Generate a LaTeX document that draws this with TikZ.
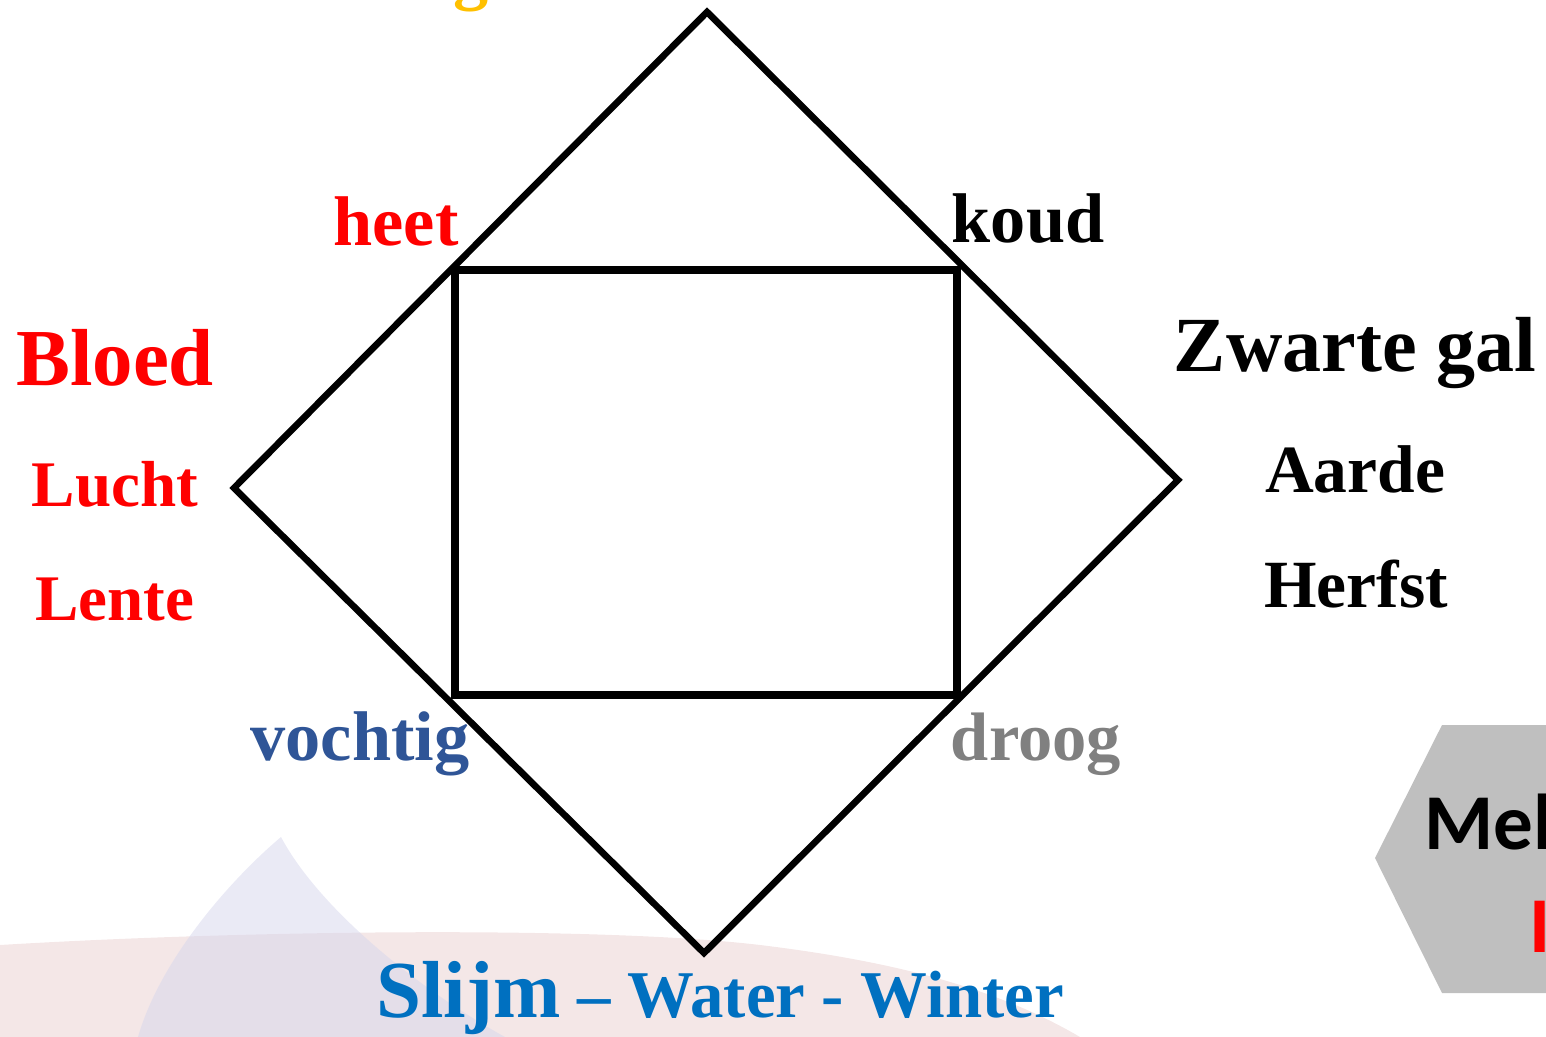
\documentclass[tikz,border=0pt]{standalone}
\usepackage{fontspec}
\setmainfont{Liberation Serif}
\newfontfamily\hexfont{Carlito}
\definecolor{vochtblauw}{HTML}{2F5597}
\definecolor{slijmblauw}{HTML}{0070C0}
\definecolor{galgeel}{HTML}{FFC000}
\definecolor{hexgrijs}{HTML}{BFBFBF}
\definecolor{droggrijs}{HTML}{808080}
\definecolor{roze}{RGB}{244,231,231}
\definecolor{lila}{RGB}{214,214,236}

\begin{document}
\begin{tikzpicture}[x=0.01cm,y=-0.01cm,
    woord/.style={anchor=base,inner sep=0pt,font=\bfseries\fontsize{#1}{#1}\selectfont},
    woord/.default=20]
\useasboundingbox (0,0) rectangle (1546,1037);
\clip (0,0) rectangle (1546,1037);
% achtergrond
\fill[roze] (0,945) .. controls (250,930) and (600,926) .. (760,945) .. controls (900,962) and (1000,990) .. (1080,1037) -- (0,1037) -- cycle;
\fill[lila,opacity=0.5] (281,837) .. controls (320,910) and (420,990) .. (505,1037) -- (138,1037) .. controls (160,960) and (230,880) .. (281,837) -- cycle;
% zeshoek rechtsonder
\fill[hexgrijs] (1375,858) -- (1442,725) -- (1600,725) -- (1600,993) -- (1442,993) -- cycle;
\node[anchor=base west,inner sep=0pt,font=\hexfont\bfseries\fontsize{22.5}{22.5}\selectfont] (mel) at (1424,849) {Mel};
\node[anchor=base west,inner sep=0pt,text=red,font=\hexfont\bfseries\fontsize{22.5}{22.5}\selectfont] (melrood) at (1529,952) {I};
% ruit en vierkant
\coordinate (boven) at (707,12);
\coordinate (rechts) at (1178,480);
\coordinate (onder) at (704,953);
\coordinate (links) at (234,488);
\draw[line width=1.9pt] (boven) -- (rechts) -- (onder) -- (links) -- cycle;
\coordinate (lb) at (455,270);
\coordinate (ro) at (957,695);
\draw[line width=2.2pt] (lb) rectangle (ro);
% teksten
\node[woord=20,text=galgeel] (gal) at (471,-3) {g};
\node[woord=20,text=red] (heet) at (396,246) {heet};
\node[woord=20] (koud) at (1028,243) {koud};
\node[woord=23,text=red] (bloed) at (115,386) {Bloed};
\node[woord=18.5,text=red] (lucht) at (115,507) {Lucht};
\node[woord=18.5,text=red] (lente) at (115,620) {Lente};
\node[woord=22.2] (zwart) at (1355,372) {Zwarte gal};
\node[woord=19.2] (aarde) at (1355,493) {Aarde};
\node[woord=19.2] (herfst) at (1356,607) {Herfst};
\node[woord=20,text=vochtblauw] (vochtig) at (360,760) {vochtig};
\node[woord=19.5,text=droggrijs] (droog) at (1036,760) {droog};
\node[woord=19,text=slijmblauw] (slijm) at (720,1017) {{\fontsize{23}{23}\selectfont Slijm} – Water - Winter};
\end{tikzpicture}
\end{document}
